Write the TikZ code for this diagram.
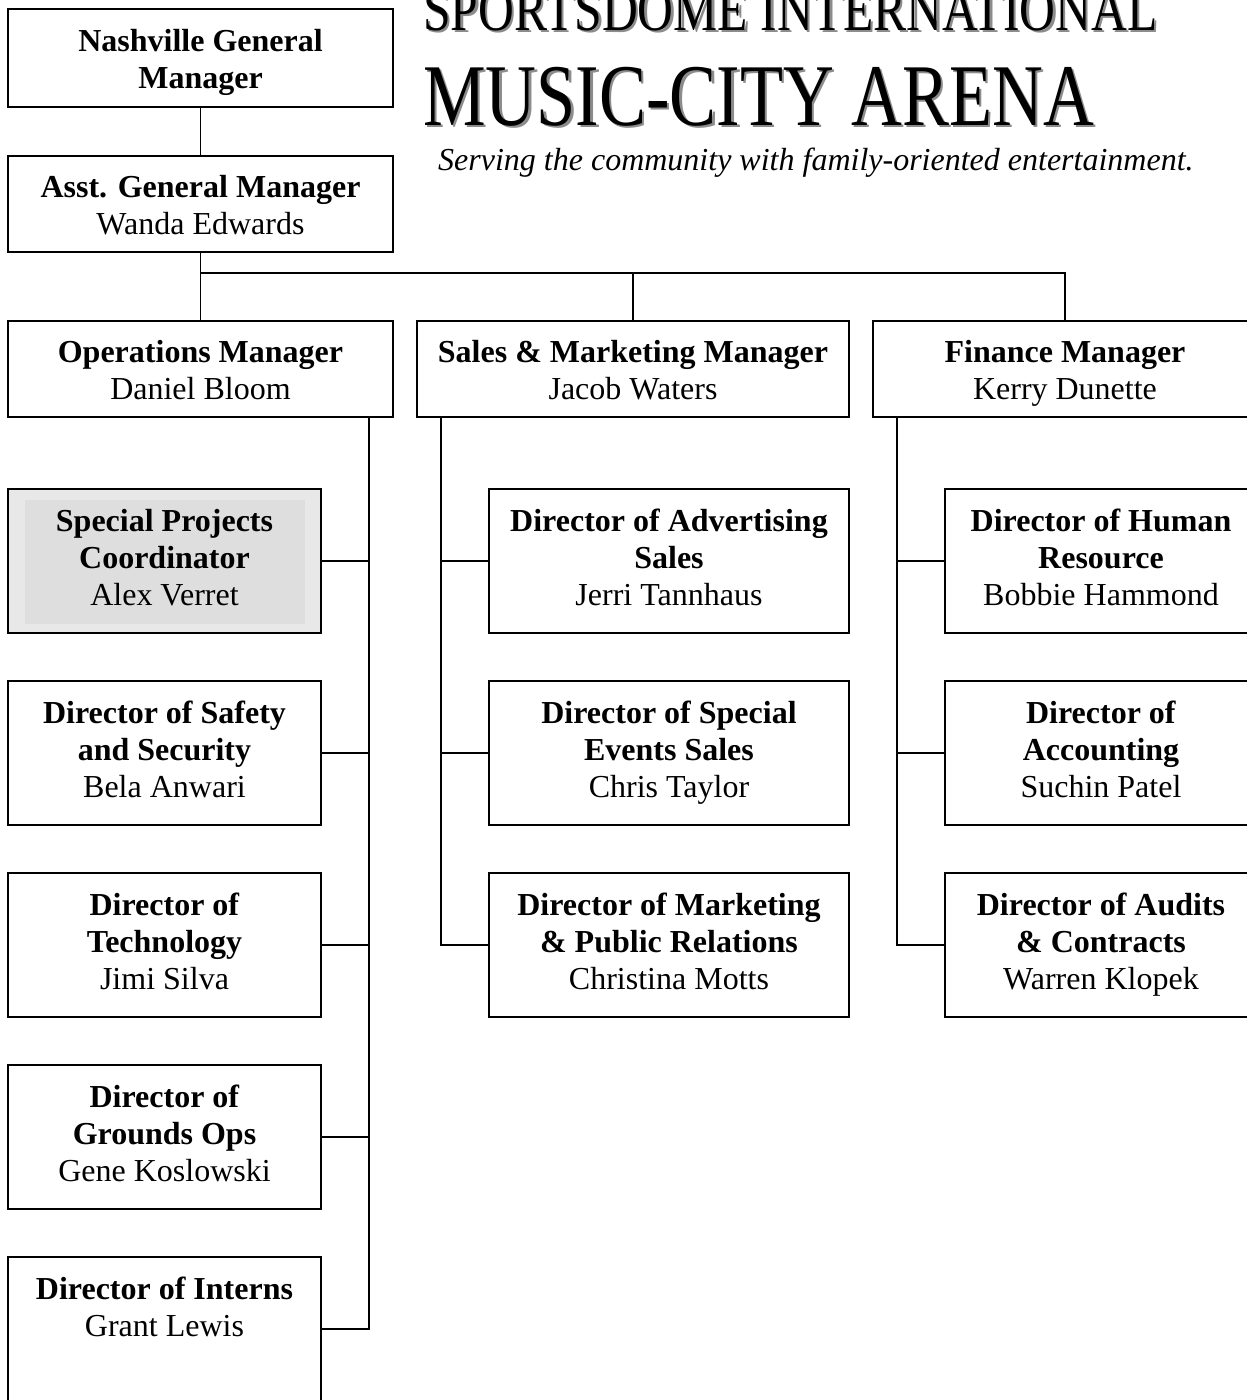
\documentclass[tikz,border=0pt]{standalone}
\usepackage{fontspec}
\setmainfont{Liberation Serif}
\newfontfamily\titlefont[FakeStretch=0.8]{Liberation Serif}
\usetikzlibrary{positioning}
\definecolor{outergray}{HTML}{E8E8E8}
\definecolor{innergray}{HTML}{DEDEDE}
\definecolor{shadowgray}{HTML}{8C8C8C}
\newcommand{\tallstrut}{\rule{0pt}{36pt}}

\begin{document}
\begin{tikzpicture}[x=1pt, y=1pt, node distance=48pt and 24pt,
  box/.style={draw, line width=1.9pt, align=center, inner sep=0pt, outer sep=0pt, font=\fontsize{32}{37}\selectfont},
  topbox/.style={box, minimum width=385pt, minimum height=96pt},
  dirbox/.style={box, minimum width=313pt, minimum height=144pt},
  link/.style={line width=1.9pt},
  title/.style={anchor=base west, inner sep=0pt}]

\clip (0,0) rectangle (1247,-1400);

% Title
\node[title, text=shadowgray, font=\titlefont\fontsize{62}{62}\selectfont] (nameshadow) at (425.5,-32.5) {SPORTSDOME INTERNATIONAL};
\node[title, font=\titlefont\fontsize{62}{62}\selectfont] (name) at (423,-30) {SPORTSDOME INTERNATIONAL};
\node[title, text=shadowgray, font=\titlefont\fontsize{88}{88}\selectfont] (arenashadow) at (425.5,-127.5) {MUSIC-CITY ARENA};
\node[title, font=\titlefont\fontsize{88}{88}\selectfont] (arena) at (423,-125) {MUSIC-CITY ARENA};
\node[title, font=\itshape\fontsize{32}{37}\selectfont] (motto) at (438,-170) {Serving the community with family-oriented entertainment.};

% Top managers
\node[topbox, minimum height=98pt] (ngm) at (200.5,-58) {\tallstrut\textbf{Nashville General}\\\textbf{Manager}\strut};
\node[topbox, below=49pt of ngm] (agm) {\tallstrut\textbf{Asst. General Manager}\\Wanda Edwards\strut};
\node[topbox, below=69pt of agm] (ops) {\tallstrut\textbf{Operations Manager}\\Daniel Bloom\strut};
\node[topbox, minimum width=432pt, right=of ops] (sales) {\tallstrut\textbf{Sales \& Marketing Manager}\\Jacob Waters\strut};
\node[topbox, minimum width=384pt, right=of sales] (fin) {\tallstrut\textbf{Finance Manager}\\Kerry Dunette\strut};

% Operations directors
\node[dirbox, fill=outergray, below right=72pt and 0pt of ops.south west,
  path picture={\fill[innergray] ([shift={(17pt,-11pt)}]path picture bounding box.north west) rectangle ([shift={(-16pt,9pt)}]path picture bounding box.south east);}]
  (spc) {\strut\textbf{Special Projects}\\\textbf{Coordinator}\\Alex Verret\strut};
\node[dirbox, below=of spc] (safety) {\strut\textbf{Director of Safety}\\\textbf{and Security}\\Bela Anwari\strut};
\node[dirbox, below=of safety] (tech) {\strut\textbf{Director of}\\\textbf{Technology}\\Jimi Silva\strut};
\node[dirbox, below=of tech] (grounds) {\strut\textbf{Director of}\\\textbf{Grounds Ops}\\Gene Koslowski\strut};
\node[dirbox, below=of grounds] (interns) {\strut\textbf{Director of Interns}\\Grant Lewis\\\strut};

% Sales directors
\node[dirbox, minimum width=360pt, below left=72pt and 0pt of sales.south east] (adv) {\strut\textbf{Director of Advertising}\\\textbf{Sales}\\Jerri Tannhaus\strut};
\node[dirbox, minimum width=360pt, below=of adv] (events) {\strut\textbf{Director of Special}\\\textbf{Events Sales}\\Chris Taylor\strut};
\node[dirbox, minimum width=360pt, below=of events] (mpr) {\strut\textbf{Director of Marketing}\\\textbf{\& Public Relations}\\Christina Motts\strut};

% Finance directors
\node[dirbox, minimum width=312pt, below left=72pt and 0pt of fin.south east] (hr) {\strut\textbf{Director of Human}\\\textbf{Resource}\\Bobbie Hammond\strut};
\node[dirbox, minimum width=312pt, below=of hr] (acct) {\strut\textbf{Director of}\\\textbf{Accounting}\\Suchin Patel\strut};
\node[dirbox, minimum width=312pt, below=of acct] (audit) {\strut\textbf{Director of Audits}\\\textbf{\& Contracts}\\Warren Klopek\strut};

% Connections
\draw[link] (ngm) -- (agm);
\draw[link] (agm) -- (ops);
\coordinate[below=21pt of agm.south] (bus);
\draw[link] (bus) -| (sales.north);
\draw[link] (bus) -| (fin.north);
\foreach \d in {spc,safety,tech,grounds,interns}
    \draw[link] ([xshift=-24pt]ops.south east) |- (\d.east);
\foreach \d in {adv,events,mpr}
    \draw[link] ([xshift=24pt]sales.south west) |- (\d.west);
\foreach \d in {hr,acct,audit}
    \draw[link] ([xshift=24pt]fin.south west) |- (\d.west);
\end{tikzpicture}
\end{document}
